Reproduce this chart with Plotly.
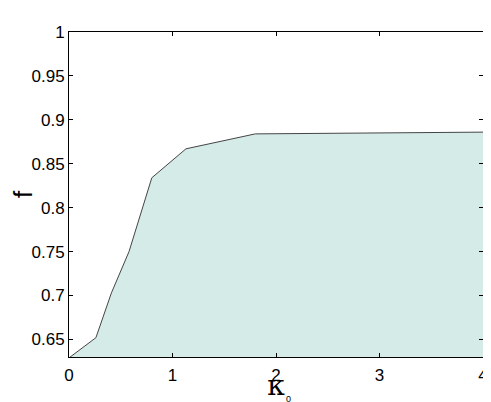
import plotly.graph_objects as go

kappa0 = [0.0, 0.26, 0.41, 0.58, 0.80, 1.13, 1.80, 4.0]
f_vals = [0.629, 0.652, 0.703, 0.750, 0.834, 0.867, 0.884, 0.886]

x_ticks = [0, 1, 2, 3, 4]
y_ticks = [0.65, 0.7, 0.75, 0.8, 0.85, 0.9, 0.95, 1]
y_labels = ["0.65", "0.7", "0.75", "0.8", "0.85", "0.9", "0.95", "1"]

fig = go.Figure()
fig.add_trace(go.Scatter(
    x=kappa0, y=f_vals, mode="lines", fill="tozeroy",
    fillcolor="#d5ebe8", line=dict(color="#444444", width=1),
))

axis_style = dict(
    showgrid=False, zeroline=False, showline=True, mirror="ticks",
    linecolor="black", linewidth=1, ticks="inside", ticklen=4,
    tickcolor="black", automargin=False,
    tickfont=dict(family="Liberation Sans, Arial", size=17, color="black"),
)

fig.update_xaxes(range=[0, 4], tickvals=x_ticks, ticklabelstandoff=3,
                 title=dict(text="κ", font=dict(family="DejaVu Serif", size=28, color="black"),
                            standoff=10),
                 **axis_style)
fig.update_yaxes(range=[0.63, 1], tickvals=y_ticks, ticktext=y_labels,
                 title=dict(text="f", font=dict(family="Liberation Sans, Arial", size=26, color="black"),
                            standoff=12),
                 **axis_style)

# tiny subscript of the x label
fig.add_annotation(text="0", x=0.529, y=-0.15, xref="paper", yref="paper",
                   showarrow=False, font=dict(family="Liberation Sans, Arial", size=9, color="black"))

# page body adds an 8px offset, so the figure is sized to the visible area
fig.update_layout(
    width=483, height=394,
    margin=dict(l=61, r=8, t=24, b=45),
    plot_bgcolor="white", paper_bgcolor="white",
    showlegend=False,
)

fig.write_html("out.html")
